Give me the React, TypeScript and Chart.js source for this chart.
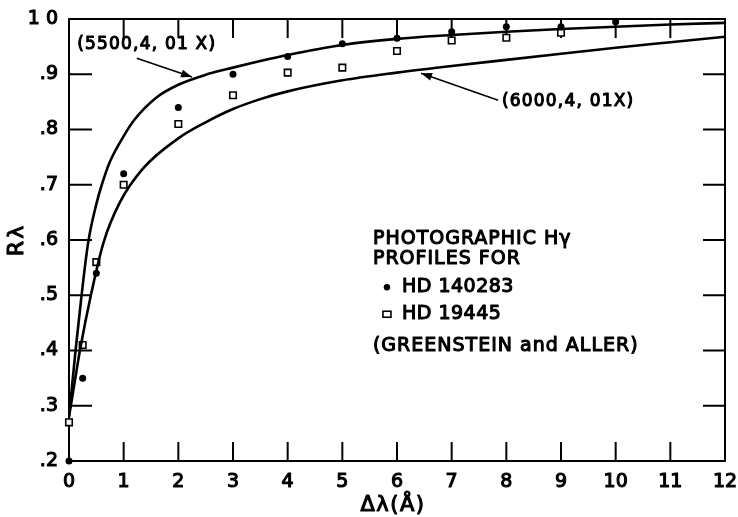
import React, { useEffect, useRef } from 'react';
import { Chart, registerables } from 'chart.js';

Chart.register(...registerables);

// ---- Data ----
const hd140283X = [0, 0.25, 0.5, 1, 2, 3, 4, 5, 6, 7, 8, 9, 10];
const hd140283Y = [0.2, 0.35, 0.54, 0.72, 0.84, 0.9, 0.932, 0.955, 0.965, 0.977, 0.986, 0.986, 0.995];

const hd19445X = [0, 0.25, 0.5, 1, 2, 3, 4, 5, 6, 7, 8, 9];
const hd19445Y = [0.27, 0.41, 0.56, 0.7, 0.81, 0.862, 0.903, 0.912, 0.942, 0.961, 0.966, 0.975];

const curve5500X = [0, 0.03, 0.12, 0.23, 0.35, 0.5, 0.6, 0.75, 1.0, 1.2, 1.6, 2.0, 2.5, 3.0, 3.5, 4.0, 5.0, 6.0, 7.0, 8.0, 9.0, 10.0, 11.0, 12.0];
const curve5500Y = [0.28, 0.31, 0.4, 0.5, 0.595, 0.665, 0.7, 0.742, 0.788, 0.818, 0.858, 0.881, 0.899, 0.912, 0.924, 0.935, 0.953, 0.964, 0.971, 0.977, 0.982, 0.986, 0.99, 0.993];

const curve6000X = [0, 0.05, 0.2, 0.4, 0.63, 0.93, 1.36, 2.0, 2.5, 3.0, 3.5, 4.0, 5.0, 6.0, 7.0, 8.0, 9.0, 10.0, 11.0, 12.0];
const curve6000Y = [0.28, 0.31, 0.4, 0.5, 0.595, 0.668, 0.73, 0.784, 0.813, 0.837, 0.855, 0.869, 0.889, 0.903, 0.915, 0.926, 0.937, 0.948, 0.958, 0.968];

const xTickValues = [0, 1, 2, 3, 4, 5, 6, 7, 8, 9, 10, 11, 12];
const yTickValues = [0.2, 0.3, 0.4, 0.5, 0.6, 0.7, 0.8, 0.9, 1.0];
const yTickLabels = ['.2', '.3', '.4', '.5', '.6', '.7', '.8', '.9', '1 0'];

const curve5500Label = '(5500,4, 01 X)';
const curve6000Label = '(6000,4, 01X)';
const legendLines = ['PHOTOGRAPHIC Hγ', 'PROFILES FOR'];
const series1Name = 'HD 140283';
const series2Name = 'HD 19445';
const sourceLabel = '(GREENSTEIN and ALLER)';
const xTitle = 'Δλ(Å)';
const yTitle = 'Rλ';

const FONT = '"DejaVu Sans", "Liberation Sans", Arial, sans-serif';
const STROKE = 1.1;

const toXY = (xs: number[], ys: number[]) => xs.map((x, i) => ({ x, y: ys[i] }));

function text(ctx: CanvasRenderingContext2D, s: string, x: number, y: number) {
  ctx.fillText(s, x, y);
  ctx.save();
  ctx.lineWidth = STROKE;
  ctx.lineJoin = 'round';
  ctx.strokeText(s, x, y);
  ctx.restore();
}

function arrow(ctx: CanvasRenderingContext2D, x1: number, y1: number, x2: number, y2: number) {
  ctx.beginPath();
  ctx.moveTo(x1, y1);
  ctx.lineTo(x2, y2);
  ctx.stroke();
  const ang = Math.atan2(y2 - y1, x2 - x1);
  const len = 11;
  const w = 4;
  ctx.beginPath();
  ctx.moveTo(x2, y2);
  ctx.lineTo(x2 - len * Math.cos(ang) + w * Math.sin(ang), y2 - len * Math.sin(ang) - w * Math.cos(ang));
  ctx.lineTo(x2 - len * Math.cos(ang) - w * Math.sin(ang), y2 - len * Math.sin(ang) + w * Math.cos(ang));
  ctx.closePath();
  ctx.fill();
}

const framePlugin = {
  id: 'frameTicks',
  beforeDatasetsDraw(chart: any) {
    const { ctx, chartArea: a, scales } = chart;
    const x = scales.x;
    const y = scales.y;
    ctx.save();
    ctx.strokeStyle = '#000';
    ctx.lineWidth = 2;
    ctx.strokeRect(a.left, a.top, a.right - a.left, a.bottom - a.top);
    ctx.beginPath();
    xTickValues.forEach((v) => {
      if (v <= 0 || v >= 12) return;
      const px = x.getPixelForValue(v);
      ctx.moveTo(px, a.bottom);
      ctx.lineTo(px, a.bottom - 19);
      ctx.moveTo(px, a.top);
      ctx.lineTo(px, a.top + 19);
    });
    yTickValues.forEach((v) => {
      if (v <= 0.2 || v >= 1.0) return;
      const py = y.getPixelForValue(v);
      ctx.moveTo(a.left, py);
      ctx.lineTo(a.left + 23, py);
      ctx.moveTo(a.right, py);
      ctx.lineTo(a.right - 22, py);
    });
    ctx.stroke();
    ctx.restore();
  },
  afterDatasetsDraw(chart: any) {
    const { ctx, scales, chartArea: a } = chart;
    const x = scales.x;
    const y = scales.y;
    const X = (v: number) => x.getPixelForValue(v);
    const Y = (v: number) => y.getPixelForValue(v);
    ctx.save();
    ctx.fillStyle = '#000';
    ctx.strokeStyle = '#000';
    ctx.lineWidth = 1.6;
    ctx.textBaseline = 'middle';
    ctx.textAlign = 'left';
    // curve annotations
    ctx.font = `17px ${FONT}`;
    (ctx as any).letterSpacing = '1.2px';
    text(ctx, curve5500Label, X(0.15), Y(0.953));
    arrow(ctx, X(1.24), Y(0.929), X(2.25), Y(0.895));
    text(ctx, curve6000Label, X(7.92), Y(0.851));
    arrow(ctx, X(7.85), Y(0.853), X(6.44), Y(0.902));

    // legend block
    const lx = X(5.56);
    const ly = Y(0.9);
    ctx.font = `19px ${FONT}`;
    (ctx as any).letterSpacing = '1px';
    text(ctx, legendLines[0], lx, ly + 165);
    text(ctx, legendLines[1], lx, ly + 185);
    text(ctx, sourceLabel, lx, ly + 272);
    (ctx as any).letterSpacing = '0.5px';
    text(ctx, series1Name, lx + 29, ly + 213);
    text(ctx, series2Name, lx + 29, ly + 240);
    // legend markers
    ctx.beginPath();
    ctx.arc(lx + 14, ly + 213, 3.2, 0, Math.PI * 2);
    ctx.fill();
    ctx.lineWidth = 1.6;
    ctx.strokeRect(lx + 10, ly + 237, 8, 6);

    // axis titles
    (ctx as any).letterSpacing = '1.5px';
    ctx.font = `21px ${FONT}`;
    ctx.textAlign = 'center';
    text(ctx, xTitle, (a.left + a.right) / 2 - 4, 506);
    (ctx as any).letterSpacing = '2px';
    ctx.font = `22px ${FONT}`;
    ctx.translate(17, (a.top + a.bottom) / 2);
    ctx.rotate(-Math.PI / 2);
    text(ctx, yTitle, 0, 0);
    ctx.restore();
  },
};

export default function App() {
  const ref = useRef<HTMLCanvasElement | null>(null);
  useEffect(() => {
    if (!ref.current) return;
    const chart = new Chart(ref.current, {
      type: 'scatter',
      data: {
        datasets: [
          {
            label: '(5500,4,01X)',
            type: 'line',
            data: toXY(curve5500X, curve5500Y),
            borderColor: '#000',
            borderWidth: 2.6,
            pointRadius: 0,
            cubicInterpolationMode: 'monotone',
            fill: false,
          } as any,
          {
            label: '(6000,4,01X)',
            type: 'line',
            data: toXY(curve6000X, curve6000Y),
            borderColor: '#000',
            borderWidth: 2.6,
            pointRadius: 0,
            cubicInterpolationMode: 'monotone',
            fill: false,
          } as any,
          {
            label: series1Name,
            data: toXY(hd140283X, hd140283Y),
            pointStyle: 'circle',
            pointRadius: 3.5,
            backgroundColor: '#000',
            borderColor: '#000',
            borderWidth: 0,
            clip: false,
          } as any,
          {
            label: series2Name,
            data: toXY(hd19445X, hd19445Y),
            pointStyle: 'rect',
            pointRadius: 4.6,
            backgroundColor: '#fff',
            borderColor: '#000',
            borderWidth: 1.6,
            clip: false,
          } as any,
        ],
      },
      options: {
        animation: false,
        responsive: false,
        layout: { padding: { top: 19, right: 13, left: 0, bottom: 0 } },
        plugins: { legend: { display: false }, tooltip: { enabled: false } },
        scales: {
          x: {
            type: 'linear',
            min: 0,
            max: 12,
            grid: { display: false, drawTicks: false },
            border: { display: false },
            afterBuildTicks: (s: any) => {
              s.ticks = xTickValues.map((v) => ({ value: v }));
            },
            ticks: {
              color: '#000',
              font: { family: FONT, size: 19 },
              textStrokeColor: '#000',
              textStrokeWidth: STROKE,
              padding: 10,
              maxRotation: 0,
              autoSkip: false,
            },
            afterFit: (s: any) => {
              s.height = 56;
              s.paddingLeft = 0;
              s.paddingRight = 0;
            },
          },
          y: {
            type: 'linear',
            min: 0.2,
            max: 1.0,
            grid: { display: false, drawTicks: false },
            border: { display: false },
            afterBuildTicks: (s: any) => {
              s.ticks = yTickValues.map((v) => ({ value: v }));
            },
            ticks: {
              color: '#000',
              font: { family: FONT, size: 19 },
              textStrokeColor: '#000',
              textStrokeWidth: STROKE,
              padding: 11,
              autoSkip: false,
              callback: (v: any) => {
                const i = yTickValues.findIndex((t) => Math.abs(t - v) < 1e-6);
                return i >= 0 ? yTickLabels[i] : '';
              },
            },
            afterFit: (s: any) => {
              s.width = 69;
              s.paddingTop = 0;
              s.paddingBottom = 0;
            },
          },
        },
      },
      plugins: [framePlugin],
    });
    return () => chart.destroy();
  }, []);
  return (
    <div style={{ position: 'fixed', left: 0, top: 0, width: 738, height: 517, background: '#fff' }}>
      <canvas ref={ref} width={738} height={517} style={{ width: 738, height: 517, display: 'block' }} />
    </div>
  );
}
